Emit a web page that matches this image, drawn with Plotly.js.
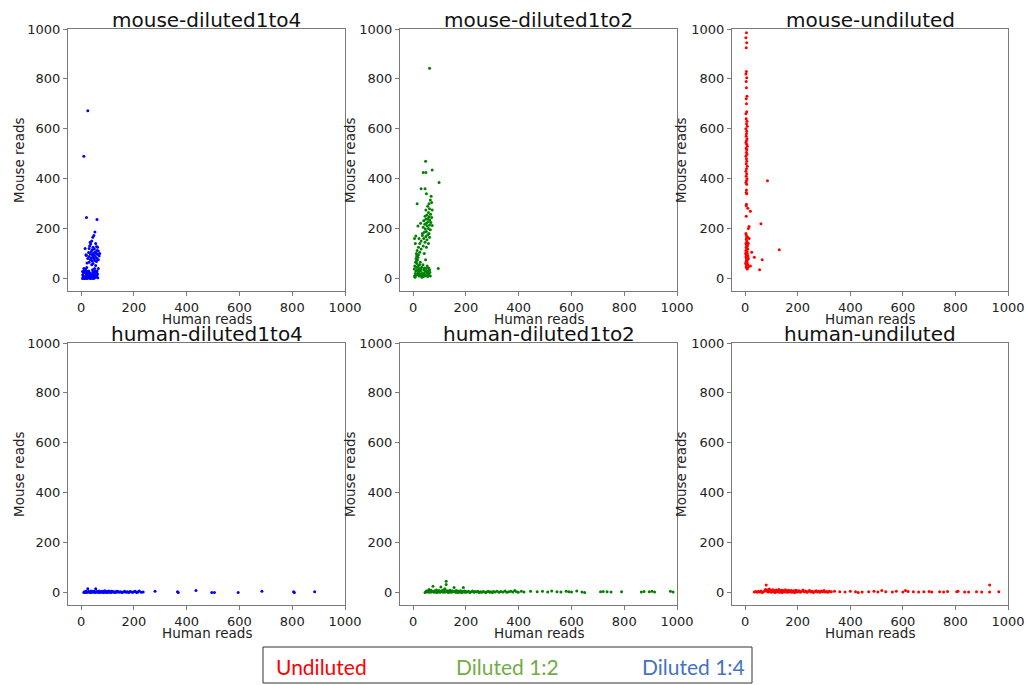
<!DOCTYPE html>
<html>
<head>
<meta charset="utf-8">
<script src="https://cdn.plot.ly/plotly-3.0.1.min.js"></script>
<style>html,body{margin:0;padding:0;background:#fff;}#chart{width:1027px;height:685px;}</style>
</head>
<body>
<div id="chart"></div>
<script>
// Panel titles (row-major: top row mouse samples, bottom row human samples)
var panelTitles = ["mouse-diluted1to4", "mouse-diluted1to2", "mouse-undiluted",
                   "human-diluted1to4", "human-diluted1to2", "human-undiluted"];
var panelColors = ["#0000FF", "#008000", "#FF0000", "#0000FF", "#008000", "#FF0000"];
var xAxisLabel = "Human reads";
var yAxisLabel = "Mouse reads";
var tickValues = [0, 200, 400, 600, 800, 1000];
var legendLabels = ["Undiluted", "Diluted 1:2", "Diluted 1:4"];
var legendColors = ["#FF0000", "#70AD47", "#4472C4"];

// Each point: [human reads, mouse reads]
var mouseDiluted1to4 = [
  [25,672],[10,490],[20,245],[60,237],
  [52,186],[48,172],[44,165],[40,150],[34,145],[36,138],[55,140],[58,128],[62,125],[45,125],[30,120],
  [50,118],[42,115],[60,112],[65,110],[38,108],[54,106],[28,104],[47,102],[58,100],[35,98],[62,96],
  [42,95],[50,93],[20,92],[68,90],[30,88],[45,86],[55,85],[38,82],[60,80],[25,80],[48,78],[35,75],
  [52,72],[42,70],[58,68],[30,65],[22,62],[45,60],[40,55],[55,52],[15,120],[18,95],[65,75],[70,100],[32,130],
  [5,0],[8,2],[10,5],[12,1],[15,8],[18,3],[20,12],[22,0],[25,6],[28,2],[30,15],[32,4],[35,8],[38,1],
  [40,10],[42,3],[45,6],[48,20],[50,2],[52,12],[55,5],[58,25],[60,30],[62,18],[6,15],[9,22],[11,30],
  [13,38],[16,25],[19,18],[24,28],[27,20],[33,22],[36,14],[44,26],[47,10],[53,30],[57,8],[7,10],[14,0],
  [17,35],[21,44],[26,12],[29,30],[34,0],[39,18],[43,35],[46,0],[49,15],[51,40],[54,22],[59,12],[65,40],
  [63,3],[5,28],[10,40]
];
var mouseDiluted1to2 = [
  [62,843],[47,470],[38,425],[48,425],[72,435],[98,385],[30,360],[45,360],[15,300],[50,340],[68,330],[5,160],[95,40],
  [65,315],[60,300],[70,305],[55,290],[62,280],[72,275],[48,275],[58,265],[66,258],[52,255],[45,250],[60,248],
  [70,245],[55,240],[48,238],[63,235],[40,232],[57,228],[67,225],[50,222],[44,218],[62,215],[72,212],[53,210],
  [38,205],[58,200],[46,198],[65,195],[50,188],[42,185],[60,180],[55,175],[35,172],[48,168],[62,165],[40,160],
  [52,155],[30,150],[45,145],[58,140],[25,140],[38,130],[20,125],[50,125],[30,118],[15,112],[25,105],[12,100],
  [20,95],[42,100],[18,210],[10,170],[28,222],[35,180],[22,160],[8,140],
  [5,10],[8,20],[10,30],[12,45],[14,60],[16,75],[18,85],[6,50],[9,65],[11,80],[13,90],[15,35],[17,15],[20,25],
  [22,40],[24,55],[26,18],[28,30],[30,12],[32,45],[35,22],[38,8],[40,35],[42,18],[45,28],[48,12],[50,40],
  [52,22],[55,8],[58,30],[60,18],[62,35],[65,10],[7,5],[19,50],[23,10],[27,65],[33,5],[37,55],[43,42],[47,75],
  [53,50],[57,15],[63,25],[10,12],[15,18],[21,30],[29,38],[36,14],[44,10],[51,30],[59,42],[4,38],[12,70]
];
var mouseUndiluted = [
  [5,985],[3,965],[6,945],[4,925],[5,830],[3,820],[6,805],[4,790],[5,765],[7,730],[4,720],[5,700],[6,668],
  [3,660],[4,640],[7,630],[5,620],[8,610],[3,600],[6,590],[5,580],[4,570],[7,560],[5,552],[3,545],[6,538],
  [8,530],[4,522],[6,515],[5,505],[7,498],[3,490],[5,480],[6,470],[4,460],[8,450],[5,440],[3,430],[6,420],
  [4,410],[7,400],[5,392],[3,385],[6,378],[5,355],[4,345],[6,340],[5,298],[4,292],[20,270],[10,282],[4,250],
  [85,392],[60,220],[130,115],[65,75],[55,35],[35,85],[15,160],[25,105],[20,50],[15,208],[12,200],
  [3,180],[5,172],[7,165],[4,158],[6,150],[8,145],[3,140],[5,135],[9,130],[4,125],[6,120],[10,118],[3,112],
  [7,108],[5,104],[8,100],[4,96],[6,92],[11,90],[3,86],[7,82],[5,78],[9,74],[4,70],[6,66],[8,62],[3,58],
  [5,54],[7,50],[4,46],[6,42],[8,38],[10,55],[12,80],[2,100],[12,140],[9,165],[2,62],[11,45]
];
var humanDiluted1to4 = [
  [10,0],[12,3],[15,1],[18,5],[20,0],[22,2],[25,15],[28,4],[30,1],[33,3],[35,0],[38,6],[40,2],[43,4],[45,1],
  [48,3],[50,5],[53,0],[55,15],[58,2],[60,4],[63,1],[65,3],[68,6],[70,0],[73,2],[75,4],[78,1],[80,3],[83,5],
  [85,0],[88,2],[90,7],[93,1],[95,3],[98,0],[100,4],[103,2],[105,6],[108,1],[110,3],[113,0],[115,5],[118,2],
  [120,4],[125,1],[128,3],[130,0],[135,5],[138,2],[140,4],[145,1],[150,3],[155,0],[160,2],[165,5],[170,1],
  [175,3],[180,0],[185,4],[190,2],[195,1],[200,3],[205,5],[210,0],[215,2],[220,6],[228,1],
  [235,2],[280,5],[365,3],[368,0],[435,8],[495,0],[505,0],[595,0],[685,5],[805,3],[808,0],[885,3]
];
var humanDiluted1to2 = [
  [45,0],[48,3],[50,6],[55,2],[58,8],[60,12],[62,1],[65,4],[68,9],[70,2],[75,25],[78,5],[80,1],[82,7],[85,3],
  [88,10],[90,0],[92,5],[95,2],[98,8],[100,4],[102,1],[105,22],[108,6],[110,3],[112,9],[115,1],[118,5],
  [120,15],[122,2],[125,45],[125,32],[128,7],[130,3],[133,0],[135,6],[138,2],[140,9],[143,4],[145,1],[148,7],
  [150,3],[155,20],[158,5],[160,1],[163,8],[165,3],[168,0],[170,6],[173,2],[175,5],[178,1],[180,7],[183,3],
  [185,0],[188,5],[190,20],[193,2],[195,6],[198,1],[200,4],[205,2],[210,5],[215,0],[220,3],[225,6],[230,1],
  [235,4],[240,2],[245,5],[250,0],[255,3],[260,1],[265,4],[270,2],[275,0],[280,3],[285,5],[290,1],[295,3],
  [300,0],[305,4],[310,2],[318,5],[325,1],[332,4],[340,2],[348,6],[355,1],[362,3],[370,5],[378,2],[385,8],
  [392,3],[398,1],
  [410,5],[420,2],[445,5],[470,3],[490,5],[510,2],[525,6],[545,3],[560,2],[580,5],[590,3],[600,2],[620,6],
  [640,2],[650,0],[710,3],[720,4],[735,3],[750,2],[790,3],[865,2],[875,4],[895,3],[905,5],[915,2],[975,5],[985,2]
];
var humanUndiluted = [
  [35,2],[40,4],[45,1],[50,5],[55,2],[60,6],[65,0],[70,3],[75,8],[78,12],[80,30],[82,5],[85,10],[88,2],[90,7],
  [92,14],[95,4],[98,9],[100,1],[103,6],[105,11],[108,3],[110,8],[113,0],[115,5],[118,10],[120,2],[123,7],
  [125,4],[128,12],[130,1],[133,6],[135,3],[138,9],[140,0],[143,5],[145,8],[148,2],[150,6],[153,11],[155,3],
  [158,7],[160,1],[163,5],[165,9],[168,2],[170,6],[173,4],[175,8],[178,1],[180,5],[183,3],[185,7],[188,0],
  [190,4],[193,9],[195,2],[198,6],[200,3],[205,7],[210,1],[215,5],[220,10],[225,3],[230,6],[235,1],[240,4],
  [245,8],[250,2],[255,5],[260,0],[265,4],[270,7],[275,2],[280,5],[285,1],[290,6],[295,3],[300,8],[305,2],
  [310,4],[315,1],[320,5],[328,3],
  [340,5],[360,3],[380,2],[400,5],[420,3],[430,0],[445,2],[470,3],[490,5],[505,2],[520,8],[535,3],[560,2],
  [575,5],[600,2],[610,8],[620,4],[640,3],[660,2],[680,3],[700,4],[710,2],[740,3],[755,2],[770,4],[805,3],
  [810,5],[835,2],[850,2],[880,3],[900,2],[930,30],[930,2],[965,3]
];
var panelData = [mouseDiluted1to4, mouseDiluted1to2, mouseUndiluted,
                 humanDiluted1to4, humanDiluted1to2, humanUndiluted];

// ---- layout geometry (pixels in a 1027x685 canvas) ----
var W = 1027, H = 685;
var colPx = [[68, 345], [400, 677], [732, 1008]];
var rowPx = [[29, 291], [343, 605]];
var yLabelX = [19, 350, 681];
function px2x(p) { return p / W; }
function px2y(p) { return 1 - p / H; }

var traces = [];
var layout = {
  width: W, height: H,
  margin: {l: 0, r: 0, t: 0, b: 0, pad: 0},
  paper_bgcolor: "#ffffff",
  plot_bgcolor: "#ffffff",
  showlegend: false,
  font: {family: "DejaVu Sans", size: 13, color: "#222222"},
  annotations: [],
  shapes: []
};

for (var i = 0; i < 6; i++) {
  var r = Math.floor(i / 3), c = i % 3;
  var sfx = i === 0 ? "" : String(i + 1);
  traces.push({
    type: "scatter", mode: "markers",
    x: panelData[i].map(function (p) { return p[0]; }),
    y: panelData[i].map(function (p) { return p[1]; }),
    xaxis: "x" + sfx, yaxis: "y" + sfx,
    marker: {color: panelColors[i], size: 3, line: {width: 0}},
    hoverinfo: "x+y"
  });
  var axCommon = {
    range: [-50, 1000], tickvals: tickValues, ticktext: tickValues.map(String),
    showgrid: false, zeroline: false, showline: true, mirror: true,
    linecolor: "#7a7a7a", linewidth: 1, ticks: "outside", ticklen: 4, tickwidth: 1,
    tickcolor: "#7a7a7a", tickfont: {family: "DejaVu Sans", size: 13, color: "#222222"},
    fixedrange: true
  };
  layout["xaxis" + sfx] = Object.assign({}, axCommon, {
    domain: [px2x(colPx[c][0]), px2x(colPx[c][1])], anchor: "y" + sfx
  });
  layout["yaxis" + sfx] = Object.assign({}, axCommon, {
    domain: [px2y(rowPx[r][1]), px2y(rowPx[r][0])], anchor: "x" + sfx
  });
  var cx = px2x((colPx[c][0] + colPx[c][1]) / 2);
  // x axis label
  layout.annotations.push({
    text: xAxisLabel, xref: "paper", yref: "paper", x: cx, y: px2y(rowPx[r][1] + 28),
    xanchor: "center", yanchor: "middle", showarrow: false,
    font: {family: "DejaVu Sans", size: 13.5, color: "#222222"}
  });
  // y axis label
  layout.annotations.push({
    text: yAxisLabel, xref: "paper", yref: "paper", x: px2x(yLabelX[c]),
    y: px2y((rowPx[r][0] + rowPx[r][1]) / 2), textangle: -90,
    xanchor: "center", yanchor: "middle", showarrow: false,
    font: {family: "DejaVu Sans", size: 13.5, color: "#222222"}
  });
  // panel title
  layout.annotations.push({
    text: panelTitles[i], xref: "paper", yref: "paper", x: cx, y: px2y(rowPx[r][0] - 9),
    xanchor: "center", yanchor: "middle", showarrow: false,
    font: {family: "DejaVu Sans", size: 20, color: "#111111"}
  });
}

// bottom legend box with coloured labels
layout.shapes.push({
  type: "rect", xref: "paper", yref: "paper",
  x0: px2x(263), x1: px2x(752), y0: px2y(683), y1: px2y(647),
  line: {color: "#333333", width: 1}, fillcolor: "rgba(0,0,0,0)"
});
var legendCentersPx = [321, 507, 693];
for (var k = 0; k < legendLabels.length; k++) {
  layout.annotations.push({
    text: legendLabels[k], xref: "paper", yref: "paper",
    x: px2x(legendCentersPx[k]), y: px2y(666),
    xanchor: "center", yanchor: "middle", showarrow: false,
    font: {family: "Lato", size: 21, color: legendColors[k]}
  });
}

Plotly.newPlot("chart", traces, layout, {displayModeBar: false, staticPlot: true});
</script>
</body>
</html>
